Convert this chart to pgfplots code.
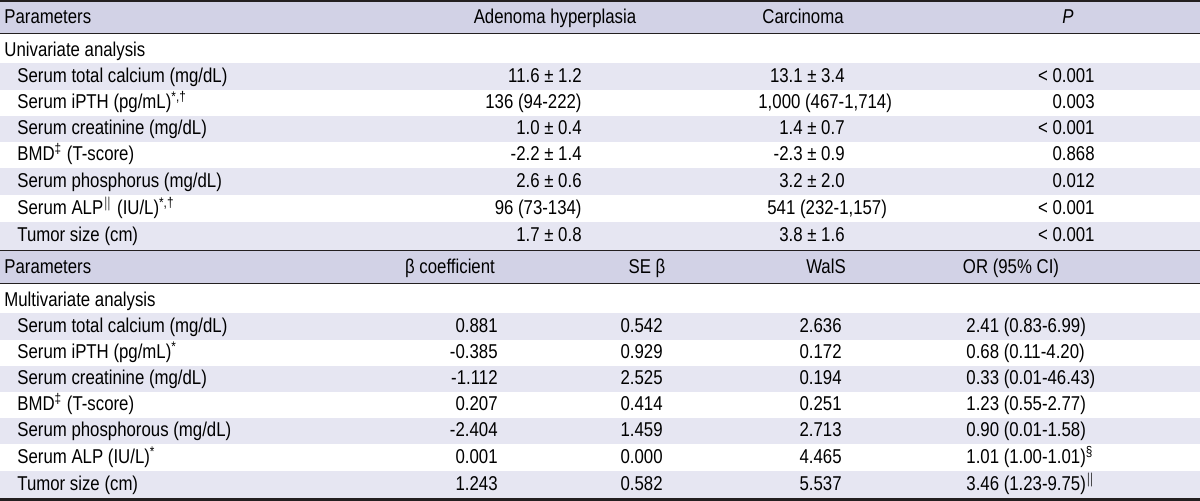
\documentclass[border=0pt]{standalone}
\usepackage{fontspec}
\setmainfont{Liberation Sans}[FakeStretch=0.84]
\usepackage{pgfplots}
\pgfplotsset{compat=1.18}
\definecolor{hdr}{RGB}{210,210,230}
\definecolor{band}{RGB}{230,230,242}
\definecolor{rule}{RGB}{35,31,32}
\definecolor{txt}{RGB}{35,31,32}
\newcommand{\Lt}[3]{\node[anchor=base west,inner sep=0pt] at (axis cs:#1,#2) {#3};}
\newcommand{\Rt}[3]{\node[anchor=base east,inner sep=0pt] at (axis cs:#1,#2) {#3};}
\newcommand{\Ct}[3]{\node[anchor=base,inner sep=0pt] at (axis cs:#1,#2) {#3};}
\newcommand{\Band}[3]{\fill[#3] (axis cs:0,#1) rectangle (axis cs:1200,#2);}
\begin{document}
\begin{tikzpicture}
\begin{axis}[width=600pt,height=250.5pt,scale only axis,
  xmin=0,xmax=1200,ymin=0,ymax=501,y dir=reverse,
  hide axis,clip=false,
  every node/.append style={font=\fontsize{8.9}{10}\selectfont,text=txt}]
% background and bands
\Band{0}{501}{white}
\Band{1.5}{33}{hdr}
\Band{63}{90}{band}
\Band{116}{142}{band}
\Band{168}{195}{band}
\Band{222}{250}{band}
\Band{251}{283}{hdr}
\Band{313}{340}{band}
\Band{366}{392}{band}
\Band{418}{444}{band}
\Band{471}{498}{band}
% rules
\Band{0}{1.6}{rule}
\Band{33}{34.2}{rule}
\Band{250}{251.4}{rule}
\Band{283}{284.2}{rule}
\Band{498.3}{501}{rule}
% ---------- upper table ----------
\Lt{4}{24}{Parameters}
\Ct{555}{24}{Adenoma hyperplasia}
\Ct{803}{24}{Carcinoma}
\Ct{1068}{24}{\textit{P}}
\Lt{4}{56.5}{Univariate analysis}
\Lt{17}{82.5}{Serum total calcium (mg/dL)}
\Rt{582}{82.5}{11.6 ± 1.2}
\Rt{845}{82.5}{13.1 ± 3.4}
\Rt{1095}{82.5}{< 0.001}
\Lt{17}{109}{Serum iPTH (pg/mL)\textsuperscript{*,†}}
\Rt{582}{109}{136 (94-222)}
\Lt{758}{109}{1,000 (467-1,714)}
\Rt{1095}{109}{0.003}
\Lt{17}{135}{Serum creatinine (mg/dL)}
\Rt{582}{135}{1.0 ± 0.4}
\Rt{845}{135}{1.4 ± 0.7}
\Rt{1095}{135}{< 0.001}
\Lt{17}{161}{BMD\textsuperscript{‡} (T-score)}
\Rt{582}{161}{-2.2 ± 1.4}
\Rt{845}{161}{-2.3 ± 0.9}
\Rt{1095}{161}{0.868}
\Lt{17}{187.5}{Serum phosphorus (mg/dL)}
\Rt{582}{187.5}{2.6 ± 0.6}
\Rt{845}{187.5}{3.2 ± 2.0}
\Rt{1095}{187.5}{0.012}
\Lt{17}{214.5}{Serum ALP\textsuperscript{$\|$} (IU/L)\textsuperscript{*,†}}
\Rt{582}{214.5}{96 (73-134)}
\Lt{767}{214.5}{541 (232-1,157)}
\Rt{1095}{214.5}{< 0.001}
\Lt{17}{242}{Tumor size (cm)}
\Rt{582}{242}{1.7 ± 0.8}
\Rt{845}{242}{3.8 ± 1.6}
\Rt{1095}{242}{< 0.001}
% ---------- lower table ----------
\Lt{4}{273.5}{Parameters}
\Ct{450}{273.5}{β coefficient}
\Ct{647}{273.5}{SE β}
\Ct{826}{273.5}{WalS}
\Ct{1011}{273.5}{OR (95\% CI)}
\Lt{4}{307}{Multivariate analysis}
\Lt{17}{332.5}{Serum total calcium (mg/dL)}
\Rt{498}{332.5}{0.881}
\Rt{663}{332.5}{0.542}
\Rt{842}{332.5}{2.636}
\Lt{966}{332.5}{2.41 (0.83-6.99)}
\Lt{17}{359}{Serum iPTH (pg/mL)\textsuperscript{*}}
\Rt{498}{359}{-0.385}
\Rt{663}{359}{0.929}
\Rt{842}{359}{0.172}
\Lt{966}{359}{0.68 (0.11-4.20)}
\Lt{17}{385}{Serum creatinine (mg/dL)}
\Rt{498}{385}{-1.112}
\Rt{663}{385}{2.525}
\Rt{842}{385}{0.194}
\Lt{966}{385}{0.33 (0.01-46.43)}
\Lt{17}{411}{BMD\textsuperscript{‡} (T-score)}
\Rt{498}{411}{0.207}
\Rt{663}{411}{0.414}
\Rt{842}{411}{0.251}
\Lt{966}{411}{1.23 (0.55-2.77)}
\Lt{17}{437}{Serum phosphorous (mg/dL)}
\Rt{498}{437}{-2.404}
\Rt{663}{437}{1.459}
\Rt{842}{437}{2.713}
\Lt{966}{437}{0.90 (0.01-1.58)}
\Lt{17}{463.5}{Serum ALP (IU/L)\textsuperscript{*}}
\Rt{498}{463.5}{0.001}
\Rt{663}{463.5}{0.000}
\Rt{842}{463.5}{4.465}
\Lt{966}{463.5}{1.01 (1.00-1.01)\textsuperscript{§}}
\Lt{17}{490.5}{Tumor size (cm)}
\Rt{498}{490.5}{1.243}
\Rt{663}{490.5}{0.582}
\Rt{842}{490.5}{5.537}
\Lt{966}{490.5}{3.46 (1.23-9.75)\textsuperscript{$\|$}}
\end{axis}
\end{tikzpicture}
\end{document}
